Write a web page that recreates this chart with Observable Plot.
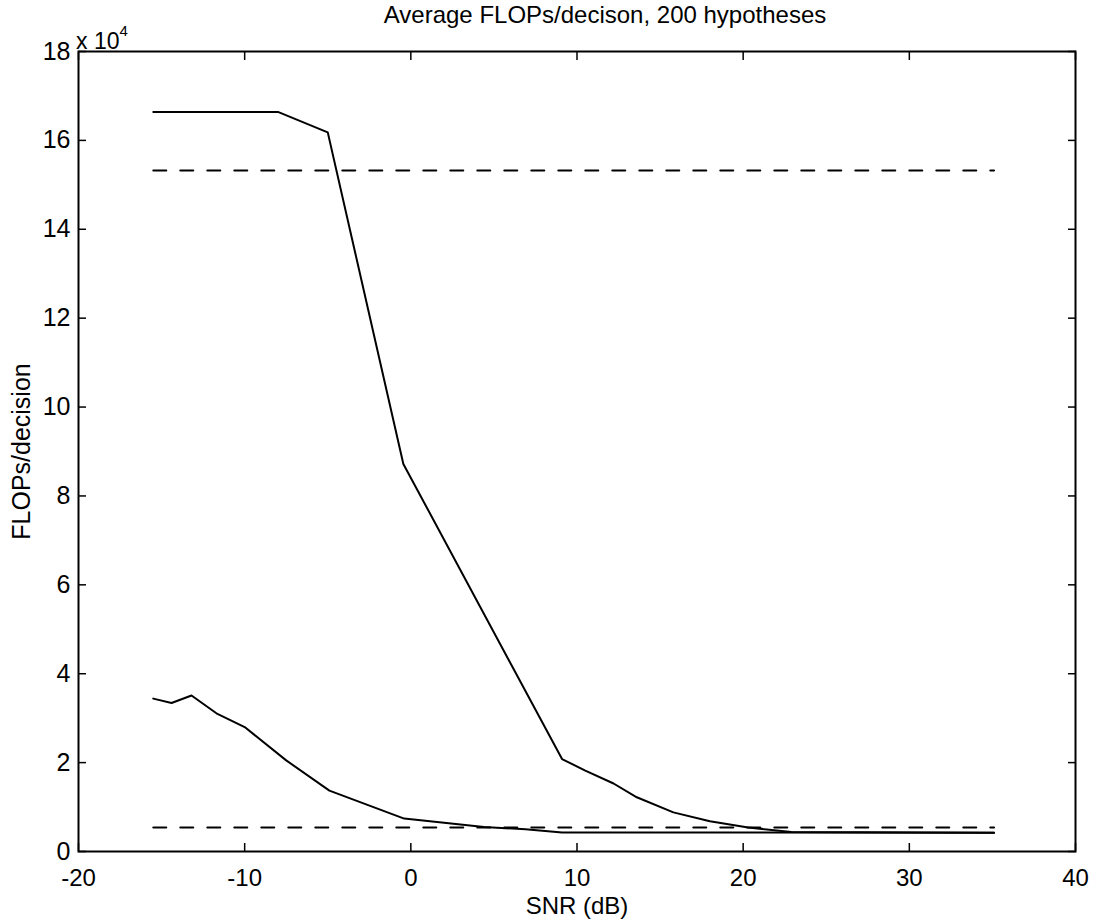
<!DOCTYPE html>
<html><head><meta charset="utf-8">
<script src="https://cdn.jsdelivr.net/npm/d3@7"></script>
<script src="https://cdn.jsdelivr.net/npm/@observablehq/plot@0.6"></script>
<style>
body{margin:0;background:#fff;}
#wrap{position:relative;width:1100px;height:923px;font-family:"Liberation Sans",Arial,Helvetica,sans-serif;color:#000;}
#title{position:absolute;left:305px;width:600px;top:3px;text-align:center;font-size:24px;line-height:24px;white-space:nowrap;}
#exp{position:absolute;left:76px;top:23px;font-size:23px;line-height:23px;white-space:nowrap;}
#exp sup{font-size:15px;position:relative;top:-4px;}
</style></head>
<body><div id="wrap"><div id="chart"></div><div id="title">Average FLOPs/decison, 200 hypotheses</div><div id="exp">x 10<sup>4</sup></div></div>
<script>
// SNR (dB) and FLOPs/decision (x 10^4)
const snrA = [-15.5, -8, -5, -0.45, 9.1, 10.5, 12.2, 13.6, 15.8, 18, 20.3, 22.9, 35.1];
const flopsA = [16.64, 16.64, 16.18, 8.72, 2.08, 1.82, 1.53, 1.22, 0.88, 0.68, 0.54, 0.44, 0.42];
const snrB = [-15.5, -14.4, -13.2, -11.7, -10, -7.5, -4.9, -0.4, 4.4, 6.9, 9.1, 35.1];
const flopsB = [3.44, 3.34, 3.51, 3.11, 2.80, 2.05, 1.37, 0.74, 0.55, 0.50, 0.43, 0.42];
const snrDash = [-15.5, 35.1];
const flopsDashHigh = [15.32, 15.32];
const flopsDashLow = [0.54, 0.54];
const xTicks = [-20, -10, 0, 10, 20, 30, 40];
const yTicks = [0, 2, 4, 6, 8, 10, 12, 14, 16, 18];

const rows = (xs, ys) => xs.map((x, i) => ({x, y: ys[i]}));
const font = '"Liberation Sans", Arial, Helvetica, sans-serif';

const chart = Plot.plot({
  width: 1100, height: 923,
  marginLeft: 78, marginRight: 25, marginTop: 51, marginBottom: 72,
  style: {fontFamily: font, fontSize: "24px", color: "black", background: "white"},
  x: {domain: [-20, 40]},
  y: {domain: [0, 18]},
  marks: [
    Plot.frame({stroke: "black", strokeWidth: 2}),
    Plot.axisX({anchor: "bottom", ticks: xTicks, tickSize: -8, tickPadding: 25, tickFormat: d => String(d),
      label: "SNR (dB)", labelAnchor: "center", labelOffset: 62, labelArrow: "none", fontSize: 24, strokeWidth: 1.5}),
    Plot.axisX({anchor: "top", ticks: xTicks, tickSize: -8, tickFormat: () => "", label: null, strokeWidth: 1.5}),
    Plot.axisY({anchor: "left", ticks: yTicks, tickSize: -8, tickPadding: 16, tickFormat: d => String(d),
      label: "FLOPs/decision", labelAnchor: "center", labelOffset: 66, labelArrow: "none", fontSize: 25, strokeWidth: 1.5}),
    Plot.axisY({anchor: "right", ticks: yTicks, tickSize: -8, tickFormat: () => "", label: null, strokeWidth: 1.5}),
    Plot.line(rows(snrDash, flopsDashHigh), {x: "x", y: "y", stroke: "black", strokeWidth: 2, strokeDasharray: "13,14"}),
    Plot.line(rows(snrDash, flopsDashLow), {x: "x", y: "y", stroke: "black", strokeWidth: 2, strokeDasharray: "13,14"}),
    Plot.line(rows(snrA, flopsA), {x: "x", y: "y", stroke: "black", strokeWidth: 2}),
    Plot.line(rows(snrB, flopsB), {x: "x", y: "y", stroke: "black", strokeWidth: 2})
  ]
});
document.getElementById("chart").appendChild(chart);
</script>
</body></html>
